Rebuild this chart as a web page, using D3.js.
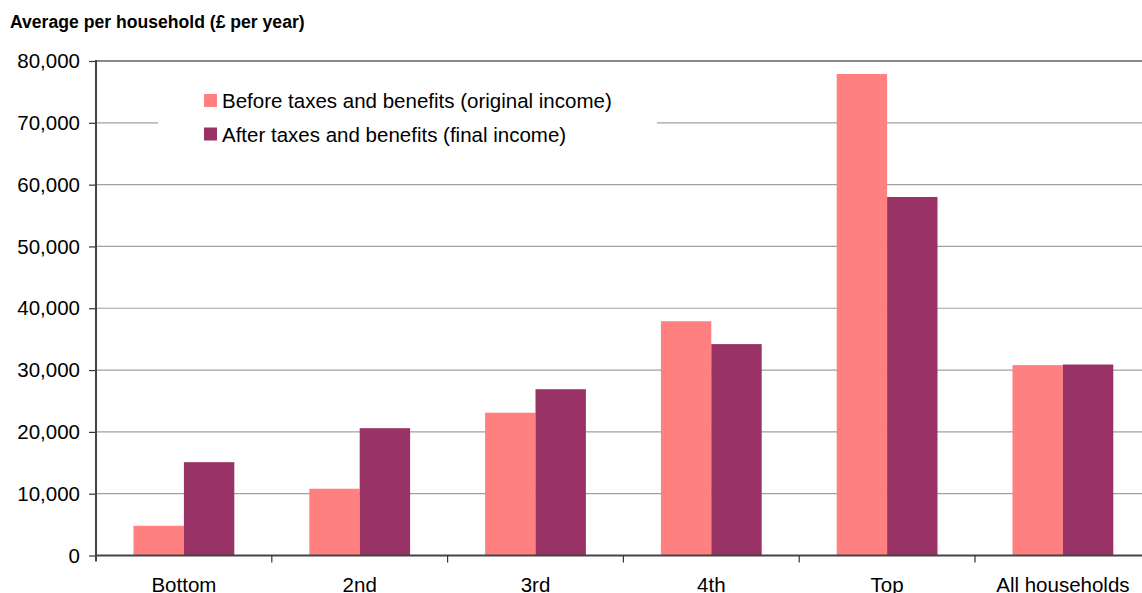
<!DOCTYPE html>
<meta charset="utf-8">
<style>
  body { margin: 0; padding: 0; background: #fff; }
  svg text { font-family: "Liberation Sans", Arial, sans-serif; fill: #000; }
  .title { font-weight: bold; font-size: 17.6px; }
  .tick text { font-size: 20.5px; }
  .legend text { font-size: 20.5px; }
</style>
<body>
<script src="https://cdn.jsdelivr.net/npm/d3@7"></script>
<script>

var categories = ["Bottom", "2nd", "3rd", "4th", "Top", "All households"];
var seriesNames = ["Before taxes and benefits (original income)", "After taxes and benefits (final income)"];
var beforeValues = [4800, 10800, 23100, 37900, 77900, 30800];
var afterValues = [15100, 20600, 26900, 34200, 58000, 30900];
var yTicks = [0, 10000, 20000, 30000, 40000, 50000, 60000, 70000, 80000];
var colors = ["#ff8080", "#993366"];

var width = 1142, height = 593;
var plotLeft = 96, plotTop = 61, plotBottom = 555.5, bandW = 175.8;

var svg = d3.select("body").append("svg")
    .attr("width", width)
    .attr("height", height);

svg.append("text")
    .attr("class", "title")
    .attr("x", 10)
    .attr("y", 28)
    .text("Average per household (£ per year)");

var x = d3.scaleBand()
    .domain(categories)
    .range([plotLeft, plotLeft + bandW * categories.length])
    .padding(0);

var xs = d3.scaleBand()
    .domain([0, 1])
    .range([37.5, bandW - 37.5]);

var y = d3.scaleLinear()
    .domain([0, 80000])
    .range([plotBottom, plotTop]);

// gridlines
svg.append("g")
  .selectAll("line")
  .data(yTicks.filter(d => d > 0))
  .enter().append("line")
    .attr("x1", plotLeft)
    .attr("x2", width)
    .attr("y1", d => y(d))
    .attr("y2", d => y(d))
    .attr("stroke", d => d == 80000 ? "#888" : "#a0a0a0")
    .attr("stroke-width", d => d == 80000 ? 2 : 1.2);

// bars
var rows = categories.map((c, i) => ({cat: c, vals: [beforeValues[i], afterValues[i]]}));
var groups = svg.append("g")
  .selectAll("g")
  .data(rows)
  .enter().append("g")
    .attr("transform", d => "translate(" + x(d.cat) + ",0)");

groups.selectAll("rect")
  .data(d => d.vals.map((v, j) => ({v: v, j: j})))
  .enter().append("rect")
    .attr("x", d => xs(d.j))
    .attr("width", xs.bandwidth())
    .attr("y", d => y(d.v))
    .attr("height", d => plotBottom - y(d.v))
    .attr("fill", d => colors[d.j]);

// legend (white box hides the gridline behind it)
var legend = svg.append("g").attr("class", "legend");
legend.append("rect")
    .attr("x", 158).attr("y", 84)
    .attr("width", 499).attr("height", 66)
    .attr("fill", "#fff");
seriesNames.forEach((name, i) => {
  legend.append("rect")
      .attr("x", 204).attr("y", 94 + i * 33.5)
      .attr("width", 13).attr("height", 13)
      .attr("fill", colors[i]);
  legend.append("text")
      .attr("x", 222).attr("y", 108 + i * 33.5)
      .text(name);
});

// y axis
var yAxis = svg.append("g")
    .attr("transform", "translate(" + plotLeft + ",0)")
    .call(d3.axisLeft(y).tickValues(yTicks).tickFormat(d3.format(",")).tickSize(7).tickPadding(9));
yAxis.select(".domain").remove();
yAxis.selectAll(".tick line").attr("stroke", "#333").attr("stroke-width", 1.2);
yAxis.append("line")
    .attr("x1", 0).attr("x2", 0)
    .attr("y1", plotTop - 1).attr("y2", plotBottom + 6)
    .attr("stroke", "#444").attr("stroke-width", 2);

// x axis
var xAxis = svg.append("g")
    .attr("transform", "translate(0," + plotBottom + ")")
    .call(d3.axisBottom(x).tickSize(0).tickPadding(22));
xAxis.select(".domain").remove();
xAxis.append("line")
    .attr("x1", plotLeft).attr("x2", width)
    .attr("stroke", "#444").attr("stroke-width", 2);
xAxis.append("g")
  .selectAll("line")
  .data(categories.slice(1))
  .enter().append("line")
    .attr("x1", d => x(d))
    .attr("x2", d => x(d))
    .attr("y1", 0).attr("y2", 7)
    .attr("stroke", "#333").attr("stroke-width", 1.2);

</script>
</body>
